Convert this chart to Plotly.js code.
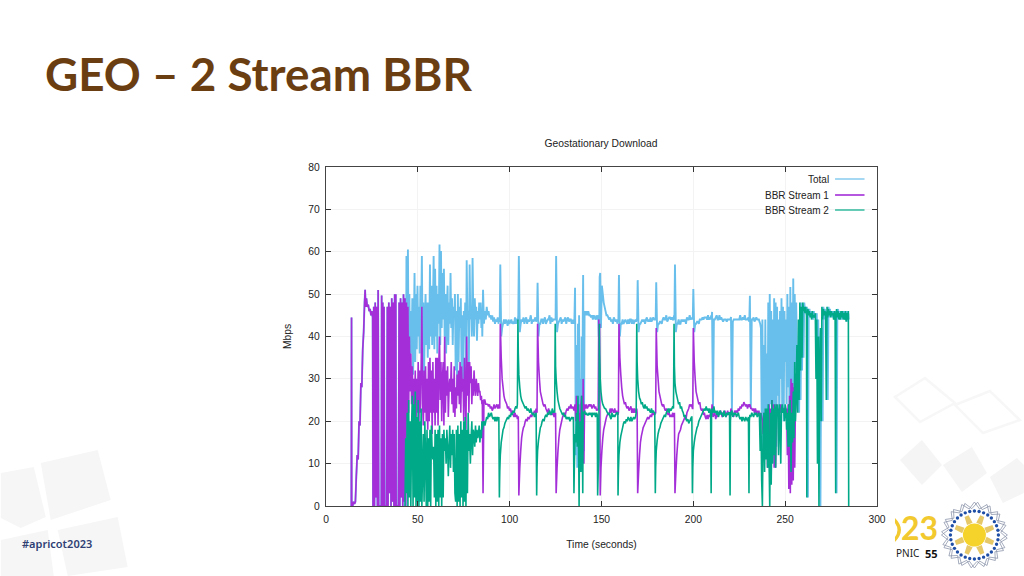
<!DOCTYPE html>
<html>
<head>
<meta charset="utf-8">
<script src="https://cdn.plot.ly/plotly-3.0.1.min.js"></script>
<style>html,body{margin:0;padding:0;background:#fff}#plot-area{width:1024px;height:576px}</style>
</head>
<body>
<div id="plot-area"></div>
<script>
// values

// stream 1 alone on the link, before stream 2 starts
var earlyTime = [13.8,13.9,14,14.5,15,15.5,16,16.5,17,17.5,18,18.5,19,19.5,20,20.5,21,21.3,21.6,22,22.5,23,23.5,24,24.5,25,25.4,
    25.6,26,26.4,26.8,27.2,27.6,28,28.4,28.7,30.1,30.3,30.6,30.9,31.2,31.6,31.9,33,33.4,33.8,34.2,34.6,35,35.4,35.8,36.2,36.6,37,37.4,37.7,
    38,38.2,39.4,39.8,40.2,40.6,41,41.4,41.8,42.2,42.6];
var earlyMbps = [0,44.5,0,0,1,0.5,1,7,12,11,20,19,29,28,37,41,48,51,47,49,47,47.5,46,46.5,45,46,44.5,
    0,47,0,48,2,47,0,51,0,0,49.7,0,48,0,47,0,0,47,0,48,3,47,0,49,1,48,0,50,0,
    50,0,0,48,0,49,2,48,0,50,1,49,0];

// first 44 s of both streams, ten samples to the row
var rampTime = [43,43.4,43.8,44.2,44.6,45,45.4,45.8,46.2,46.6,
    47,47.4,47.8,48.2,48.6,49,49.4,49.8,50.2,50.6,
    51,51.4,51.8,52.2,52.6,53,53.4,53.8,54.2,54.6,
    55,55.4,55.8,56.2,56.6,57,57.4,57.8,58.2,58.6,
    59,59.4,59.8,60.2,60.6,61,61.4,61.8,62.2,62.6,
    63,63.4,63.8,64.2,64.6,65,65.4,65.8,66.2,66.6,
    67,67.4,67.8,68.2,68.6,69,69.4,69.8,70.2,70.6,
    71,71.4,71.8,72.2,72.6,73,73.4,73.8,74.2,74.6,
    75,75.4,75.8,76.2,76.6,77,77.4,77.8,78.2,78.6,
    79,79.4,79.8,80.2,80.6,81,81.4,81.8,82.2,82.6,
    83,83.4,83.8,84.2,84.6,84.9,85.1,85.5,86,86.5];
var rampTotal = [59,38,60.5,35,50,33,46,36,49,31,
    40,55,34,50,37,52,40,47,36,52,
    44,59,38,48,31,42,50,38,48,35,
    48,37,57,40,52,38,45,59,37,56,
    40,52,36,50,43,61.7,38,60.2,42,55,
    44,56,40,50,36,46,52,38,48,43,
    55,42,49,38,47,44,50,32,46,28,
    50,34,47,42,49,33,45,30,46,40,
    48,30,58,44,46,34,57,44,47,40,
    58.5,45,40,49,44,47,39,46,43,48,
    44,48,42,46,40,51,43,46,44,47];
var rampStream1 = [48,20,47,22,40,27,36,24,33,22,
    30,22,32,19,30,22,34,20,32,22,
    33,47,24,19,32,22,33,20,30,18,
    34,20,35,22,32,17,34,22,30,19,
    35,22,35,19,33,40,25,34,20,30,
    34,19,40,22,32,26,33,21,28,30,
    27,34,24,30,22,33,21,28,23,31,
    26,32,24,34,22,33,27,30,20,35,
    28,18,40,26,34,22,34,29,33,24,
    30,26,32,28,26,30,28,26,29,27,
    27,25,26,24,25,3,25,25,24,24];
var rampStream2 = [0,16,3,22,0,25,2,20,0,19,
    26,0,24,2,27,0,21,1,25,0,
    20,1,23,0,8,17,1,20,12,0,
    18,0,16,1,18,0,19,13,11,14,
    2,18,0,17,1,18,0,19,2,16,
    0,17,2,18,13,16,10,18,14,7,
    14,19,9,17,12,18,8,17,3,1,
    18,0,19,1,17,0,20,2,18,0,
    20,1,21,0,18,3,22,13,17,10,
    16,20,12,18,17,14,19,15,18,16,
    17,19,15,18,16,20,18,19,20,19];

// settled part, one row per ten second restart
var calmTime = [87,87.5,88,88.5,89,89.5,90,90.5,91,91.5,92,92.5,93,93.5,94,
    94.1,94.4,94.6,94.9,95.4,95.9,96.4,96.9,97.4,97.9,98.4,98.9,99.4,99.9,100.4,100.9,101.4,101.9,102.4,102.9,103.4,103.9,
    104.2,104.5,104.7,105,105.5,106,106.5,107,107.5,108,108.5,109,109.5,110,110.5,111,111.5,112,112.5,113,113.5,114,
    114.4,114.7,114.9,115.2,115.7,116.2,116.7,117.2,117.7,118.2,118.7,119.2,119.7,120.2,120.7,121.2,121.7,122.2,122.7,123.2,123.7,124.2,
    124.5,124.8,125,125.3,125.8,126.3,126.8,127.3,127.8,128.3,128.8,129.3,129.8,130.3,130.8,131.3,131.8,132.3,132.8,133.3,133.8,134.3,
    134.7,135,135.2,135.6,136,136.4,136.8,137.2,137.6,137.8,138,138.4,138.8,139.2,139.5,139.8,140,140.4,140.8,141.3,141.8,142.3,
    142.8,143.3,143.8,144.3,144.8,145.3,145.8,146.3,146.8,147.3,147.7,147.9,148.2,148.5,148.8,149,149.3,149.7,150.2,150.7,151.2,151.7,
    152.2,152.7,153.2,153.7,154.2,154.7,155.2,155.7,156.2,156.7,157.2,157.7,158.2,158.7,
    158.9,159,159.2,159.5,160,160.5,161,161.5,162,162.5,163,163.5,164,164.5,165,165.5,166,166.5,167,167.5,168,168.5,
    168.9,169.2,169.4,169.7,170.2,170.7,171.2,171.7,172.2,172.7,173.2,173.7,174.2,174.7,175.2,175.7,176.2,176.7,177.2,177.7,178.2,178.7,
    179,179.3,179.5,179.8,180.3,180.8,181.3,181.8,182.3,182.8,183.3,183.8,184.3,184.8,185.3,185.8,186.3,186.8,187.3,187.8,188.3,188.8,
    189.2,189.5,189.7,190,190.5,191,191.5,192,192.5,193,193.5,194,194.5,195,195.5,196,196.5,197,197.5,198,198.5,199,
    199.2,199.5,199.7,200,200.5,201,201.5,202,202.5,203,203.5,204,204.5,205,205.5,206,206.5,207,207.5,208,208.5,209,
    209.4,209.7,209.9,210.2,210.7,211.2,211.7,212.2,212.7,213.2,213.7,214.2,214.7,215.2,215.7,216.2,216.7,217.2,217.7,218.2,218.7,219.2,
    219.7,220,220.2,220.5,221,221.5,222,222.5,223,223.5,224,224.5,225,225.5,226,226.5,227,227.5,228,228.5,229,229.5,
    230,230.3,230.5,230.8,231.3,231.8,232.3,232.8,233.3,233.8,234.3,234.8,235.3,235.7];
var calmTotal = [45,46,44.5,45,44,45,43.5,44.5,43,44,43.5,44.5,43,44,43.5,
    44,57,40,42,43,44,43,44,43.5,42.5,44,43,43.5,44,43,43.5,43,44.5,43,44,44,44,
    45,59,41,43,44,43.5,44.5,43,44,44.5,43,44,43.5,44,45,43,44,43.5,44,44.5,43.5,44,
    44,52.7,40,43,43,44,44,43,44,44.5,43,43.5,44,44,45,43,44.5,43.5,44,44,44,44,
    44,59,41,43,43.5,44,44.5,43,44,43.5,44,44.5,43,44,44.5,43.5,44,44,43,44,43,43.5,
    43,51.5,12,38,9,43,12,45,15,30,14,40,10,44,54.5,13,46,45,46,45,46,45,
    45,44.5,45,44,45,44.5,44,45,44,44.5,45,40,44,54,55,42,52,50,48,47,46,45,
    45,44.5,44,44.5,43.5,44,43,44.5,44,43.5,44,43,44,43.5,
    44,54.5,40,43,43,44,43,43.5,44,43.5,43,44,43,44,44,43,44,43,43.5,44,43.5,44,
    44,53.3,41,43,43,43.5,44,43.5,44,43,44,44.5,43.5,44,43.5,44.5,43.5,44,44.5,44,44,44,
    44,52.8,41,43,43,43.5,43.5,43,44,44.5,44,44,45,43.5,44,44.5,44.5,44,44.5,44,44,45,
    44,57,41,43,43,44,43,43,44,43.5,44,43.5,44,43,44.5,44,44,45,44,44.5,44,44.5,
    44,51.2,41,43,43,43.5,43.5,43,44,44,44,44.5,44,44.5,44.5,44.5,44,45,44,44.5,44,45,
    44,45.8,22,44,44,44.5,45,44,44,45,44,44.5,44,43.5,44,44,44,43.5,44,44,44,44,
    44,44.6,22,43.5,44,44,44,44,44,44,44,45,44,44,44.5,44,45,44,44,44,44.5,43.5,
    44,49.6,23,44,44,44.5,43.5,44,44.5,44,44,44,43.5,43];
var calmStream1 = [24,23.5,24,23,23.5,22.5,23,24,23,23.5,24,23,24,23,23.5,
    23,43,35,30,28,26,25,24.5,24,23,23.5,22.5,23,22,22.5,21.5,21,22,21,21.5,20.5,21,
    21,2.5,9,13,16,17.5,18.5,19,20,20.5,20,21,20.5,21,21.5,21,22,21.5,22.5,22,23,22.5,
    22,43,34,30,27,26,25,24,23.5,24,23,22.5,22,23,22,21.5,22,21.5,22,21,22,21.5,
    22,3,9,13,16,18,19,20,21,21.5,22,21.5,22.5,23,22.5,23.5,23,24,23,23.5,23,22.5,
    23,24,20,26,23,19,24,14,22,14,24,26,12,10,30,10,24,23,24,23,23.5,24,
    23.5,24,23,23.5,24,23,23.5,22.5,23,22.5,23,44,30,43,2.5,9,13,16,18,19,20,21,
    21.5,22,21.5,23,22,23,22.5,22,23,22,22.5,21.5,22,21.5,
    22,43,35,31,28,26,25,24,24.5,23.5,23,23.5,22.5,23,23.5,22,23,22,23,22,22.5,23,
    22,3,8,12,15,16.5,17.5,18.5,19,19.5,20,20.5,21,20.5,21,21.5,21,22,21.5,22,21.5,22,
    22,42,33,30,27,26,25,24,23.5,24,23,22.5,23,22,21.5,22,21,21.5,21,22,21,21.5,
    22,3,8,12,15,17,17.5,18,19,19.5,20,20.5,21,20.5,22,22.5,23,24,23.5,24,23.5,23,
    23,42,34,30,27,26,25,24,24.5,23,22.5,23,21.5,22,21,20.5,21.5,20.5,21.5,21,22,21.5,
    22,24,21,21.5,22,20.5,21.5,21,22,21.5,22.5,22,21,22,21.5,22.5,21,21.5,22.5,21.5,22,21.5,
    22,23,22,21.5,21,22.5,22,22.5,22,23,22.5,23.5,23,24,23.5,24.5,24,23.5,24,23,24,23.5,
    23.5,24,23,23,22.5,23,22,23,22,22.5,21.5,22.5,21.5,21];
var calmStream2 = [20,21,20.5,22,21,21.5,22,21,20.5,21,20,21,20,21,20.5,
    21,2,8,12,15,16.5,18,18.5,19.5,20,20.5,21,20.5,21.5,21,22,21.5,22.5,22,23,23.5,23,
    24,44,36,31,28,26,25,24.5,24,23.5,23,23.5,22.5,23,22.5,22,23,22,21.5,22,21,21.5,
    22,2.5,9,13,15.5,17,18.5,19,20,20.5,20,21,21.5,21,22,21.5,22.5,22,21.5,23,22,22.5,
    22,43,33,30,27,25,24,23,22.5,22,21.5,22,21,21.5,20.5,21,20.5,21,20,20.5,21,20.5,
    21,3,9,17,15,22,14,26,11,0,14,20,8,26,20,3,22,22,22.5,21.5,22,21.5,
    21.5,22,21.5,22,21,22,21.5,22,21,22,21.5,2.5,8,11,43,36,30,27,25,24,23.5,23,
    23,22.5,22,21.5,22,21,20.5,22,21,21.5,21,21.5,22,22,
    22,2.5,8,12,15,16.5,17.5,18.5,19.5,20,19.5,20.5,20,21,20.5,20,21,20,20.5,21,20.5,21,
    22,43,34,30,27,25.5,25,24,24.5,23.5,23,24,23,23.5,22.5,23,22.5,22,23,22,22.5,22,
    22,3,9,13,15.5,17,18,18.5,19.5,20,20.5,21,21.5,21,22,22.5,23,22,23,22.5,23,23.5,
    23,43,33,29,27,26,25,24,24.5,23,23.5,22.5,22,21,21.5,20.5,20,20.5,19.5,20,20.5,21,
    21,3,9,13,15,16.5,17.5,18.5,19,20,20.5,21,21.5,22,22.5,23,22.5,23.5,22.5,23,22,23,
    22,3,21,23,22,23.5,22,22.5,21.5,22.5,21,22,22.5,21.5,22,21,22.5,21.5,21,22,21.5,22,
    22,2.5,20,22,22.5,21,22,21.5,22,21,21.5,22,21,20.5,21,20,21,20.5,20,21,20.5,20,
    21,3,20,21.5,21,22,21.5,21,22,21.5,22,21,21.5,22];

// stream 1 collapses
var lateTime = [236,236.4,236.8,237.2,237.6,238,238.4,238.8,239.2,239.6,
    240,240.4,240.8,241.2,241.6,242,242.4,242.8,243.2,243.6,
    244,244.4,244.8,245.2,245.6,246,246.4,246.8,247.2,247.6,
    248,248.4,248.8,249.2,249.6,250,250.4,250.8,251.2,251.6,
    252,252.4,252.8,253.2,253.6,254,254.4,254.8,255.2,255.6];
var lateTotal = [42,22,44,12,38,15,44,18,36,14,
    48,20,50,24,46,12,44,16,49,22,
    48,14,47,26,44,18,46,30,49,22,
    47,20,46,34,44,24,50,28,47,20,
    51.7,18,48,22,53.7,24,50,32,48,36];
var lateStream1 = [22,21,20,17,22,16,22,12,21,9,
    10,24,8,23,7,25,13,24,9,22,
    9,24,22,23,21,23,22,24,22,23,
    22,23,23,22,22,23,12,24,4,26,
    3,30,5,29,6,28,9,25,12,0];
var lateStream2 = [21,13,22,6,0,18,22,8,23,11,
    23,9,24,12,0,22,5,25,10,23,
    12,24,9,23,24,22,12,24,20,10,
    23,24,22,23,20,24,23,18,22,14,
    24,14,25,8,22,15,27,16,34,20];

// stream 2 alone again, total sits under it
var tailTime = [256,256.4,256.8,257.2,257.6,258,258.4,258.8,259.2,259.6,260,260.4,260.8,261.2,261.6,261.8,
    262,262.4,262.8,263.2,263.6,264,264.4,264.8,265.2,265.6,
    266,266.4,266.8,267.2,267.6,268,268.4,268.8,269.2,269.6,
    270,270.4,270.8,271.2,271.6,272,272.4,272.8,273.2,273.6,
    274,274.4,274.8,275.2,275.6,276,276.4,276.8,277.2,277.5,277.7,
    278,278.4,278.8,279.2,279.6,280,280.4,280.8,281.2,281.6,282,282.4,282.8,283.2,283.6,284,284.4,284.6];
var tailMbps = [26,38,22,44,25,48,32,47,35,48,46,47,45.5,47,45,2,
    45,46.5,45,46,44.5,45.5,44,46,44.5,45,
    44.5,45.5,30,44,10,40,0,35,42,20,
    47,44,46.5,45,46,45.5,25,47,44.5,46.5,
    45,46,44.5,46,45,45.5,44,46,44.5,3,45,
    46.5,44.5,46,44,45.5,44,46,44.5,46,44,45.5,44,46,43.5,45.5,44,46,0];

var xTicks = [0,50,100,150,200,250,300];
var yTicks = [0,10,20,30,40,50,60,70,80];
var seriesNames = ["Total","BBR Stream 1","BBR Stream 2"];
var seriesColors = ["#69bfeb","#a42fd8","#00a987"];

var totalX = earlyTime.concat(rampTime,calmTime,lateTime,tailTime);
var totalY = earlyMbps.concat(rampTotal,calmTotal,lateTotal,tailMbps);
var stream1X = earlyTime.concat(rampTime,calmTime,lateTime);
var stream1Y = earlyMbps.concat(rampStream1,calmStream1,lateStream1);
var stream2X = rampTime.concat(calmTime,lateTime,tailTime);
var stream2Y = rampStream2.concat(calmStream2,lateStream2,tailMbps);

// slide furniture is placed in page pixels, plot box is 325.5..877 by 167..506
function fx(p){ return (p-325.5)/551.5; }
function fy(p){ return (506-p)/339; }
function poly(pts){
    var s = "";
    for (var i = 0; i < pts.length; i++) {
        s += (i == 0 ? "M" : "L") + fx(pts[i][0]) + "," + fy(pts[i][1]);
    }
    return s + "Z";
}
function pagePath(d, fill, line, below){
    return {type:"path", xref:"paper", yref:"paper", path:d, fillcolor:fill,
            line:{color:line, width:line == "rgba(0,0,0,0)" ? 0 : 2.5}, layer:below ? "below" : "above"};
}
function pageText(txt, x, y, anchor, size, color, family, weight){
    return {text:txt, xref:"paper", yref:"paper", x:fx(x), y:fy(y), xanchor:anchor, yanchor:"middle",
            showarrow:false, borderpad:0,
            font:{size:size, color:color, family:family, weight:weight || 400}};
}

var noLine = "rgba(0,0,0,0)";
var shapes = [];

// watermark, bottom left
var wmLeft = [
    [[0,473],[33,467],[45,517],[20,528],[0,518]],
    [[40,463],[97,450],[110,500],[50,520]],
    [[57,530],[117,517],[127,567],[67,576]],
    [[0,540],[47,530],[53,576],[0,576]]
];
wmLeft.forEach(function(q){ shapes.push(pagePath(poly(q),"#f6f6f6",noLine,true)); });
// watermark, right side
var wmRight = [
    [[900,460],[922,440],[942,465],[922,485]],
    [[943,465],[972,447],[987,473],[962,492]],
    [[990,477],[1017,458],[1024,465],[1024,493],[1003,503]]
];
wmRight.forEach(function(q){ shapes.push(pagePath(poly(q),"#f5f5f5",noLine,true)); });
var wmOutline = [
    [[895,397],[925,378],[955,403],[920,422]],
    [[955,405],[990,391],[1020,420],[983,433]]
];
wmOutline.forEach(function(q){ shapes.push(pagePath(poly(q),noLine,"#f7f7f7",true)); });

// legend keys
var keyY = [179,195,210];
for (var k = 0; k < 3; k++) {
    shapes.push({type:"line", xref:"paper", yref:"paper", x0:fx(835), x1:fx(864.5), y0:fy(keyY[k]), y1:fy(keyY[k]),
                 line:{color:seriesColors[k], width:k == 1 ? 1.6 : 1.2}});
}

// logo, left over part of the clipped zero
shapes.push(pagePath("M"+fx(895)+","+fy(518)+"Q"+fx(907)+","+fy(530)+" "+fx(895)+","+fy(542)+"L"+fx(895)+","+fy(537)+"Q"+fx(900)+","+fy(530)+" "+fx(895)+","+fy(523)+"Z","#f2c92f",noLine));

// logo, seal
var cx = 974.5, cy = 535;
[0,1].forEach(function(turn){
    var pts = [];
    for (var i = 0; i < 32; i++) {
        var a = (i + turn*0.5) * Math.PI / 16;
        var r = i % 2 == 0 ? 33 : 26.5;
        pts.push([cx + r*Math.cos(a), cy + r*Math.sin(a)]);
    }
    shapes.push({type:"path", xref:"paper", yref:"paper", path:poly(pts), fillcolor:noLine, line:{color:"#8d96ab", width:0.8}});
});
for (var i = 0; i < 32; i++) {
    var a = i * Math.PI / 16;
    var dx = cx + 24*Math.cos(a), dy = cy + 24*Math.sin(a);
    shapes.push({type:"circle", xref:"paper", yref:"paper", x0:fx(dx-1.7), x1:fx(dx+1.7), y0:fy(dy+1.7), y1:fy(dy-1.7),
                 fillcolor:"#1f4ea6", line:{width:0}});
}
for (var i = 0; i < 8; i++) {
    var a = i * Math.PI / 4 + Math.PI / 8;
    var ca = Math.cos(a), sa = Math.sin(a);
    shapes.push(pagePath(poly([[cx+12*ca-3*sa,cy+12*sa+3*ca],[cx+20.5*ca-2.2*sa,cy+20.5*sa+2.2*ca],[cx+20.5*ca+2.2*sa,cy+20.5*sa-2.2*ca],[cx+12*ca+3*sa,cy+12*sa-3*ca]]),"#e6c869",noLine));
}
shapes.push({type:"circle", xref:"paper", yref:"paper", x0:fx(cx-11.5), x1:fx(cx+11.5), y0:fy(cy+11.5), y1:fy(cy-11.5),
             fillcolor:"#f6d32b", line:{width:0}});

var annotations = [
    pageText("GEO – 2 Stream BBR", 43.5, 73, "left", 45.8, "#6b3e12", "Lato", 700),
    pageText("#apricot2023", 20, 543, "left", 11, "#2f3f74", "Noto Sans", 600),
    pageText("23", 939.5, 527, "right", 32, "#f2c92f", "Lato", 700),
    pageText("PNIC", 895, 553, "left", 10, "#222222", "Noto Sans"),
    pageText("55", 939, 553, "right", 11, "#111111", "Noto Sans", 700)
];
for (var k = 0; k < 3; k++) {
    annotations.push(pageText(seriesNames[k], 829.5, keyY[k], "right", 10, "#222222", "Liberation Sans"));
}

var data = [
    {x:totalX, y:totalY, mode:"lines", name:seriesNames[0], line:{color:seriesColors[0], width:1.9, simplify:false}},
    {x:stream1X, y:stream1Y, mode:"lines", name:seriesNames[1], line:{color:seriesColors[1], width:1.6, simplify:false}},
    {x:stream2X, y:stream2Y, mode:"lines", name:seriesNames[2], line:{color:seriesColors[2], width:1.6, simplify:false}}
];

var axisCommon = {
    showline:true, linecolor:"#444444", linewidth:1.2, mirror:"allticks",
    ticks:"inside", ticklen:5, tickcolor:"#333333", tickwidth:1,
    showgrid:true, gridcolor:"#f3f3f3", gridwidth:1, zeroline:false,
    tickfont:{size:10.3, color:"#222222", family:"Liberation Sans"}
};

var layout = {
    width:1024, height:576,
    margin:{l:325.5, r:147, t:167, b:70},
    paper_bgcolor:"#ffffff", plot_bgcolor:"#ffffff",
    showlegend:false,
    title:{text:"Geostationary Download", x:601/1024, xanchor:"center", y:1-143/576, yanchor:"middle",
           font:{size:10.3, color:"#222222", family:"Liberation Sans"}},
    xaxis:Object.assign({}, axisCommon, {range:[0,300], tickvals:xTicks, ticklabelstandoff:3, title:{text:"Time (seconds)", standoff:17,
           font:{size:10.3, color:"#222222", family:"Liberation Sans"}}}),
    yaxis:Object.assign({}, axisCommon, {range:[0,80], tickvals:yTicks, ticklabelstandoff:3, title:{text:"Mbps", standoff:14,
           font:{size:10.3, color:"#222222", family:"Liberation Sans"}}}),
    shapes:shapes,
    annotations:annotations
};

Plotly.newPlot("plot-area", data, layout, {staticPlot:true});
</script>
</body>
</html>
